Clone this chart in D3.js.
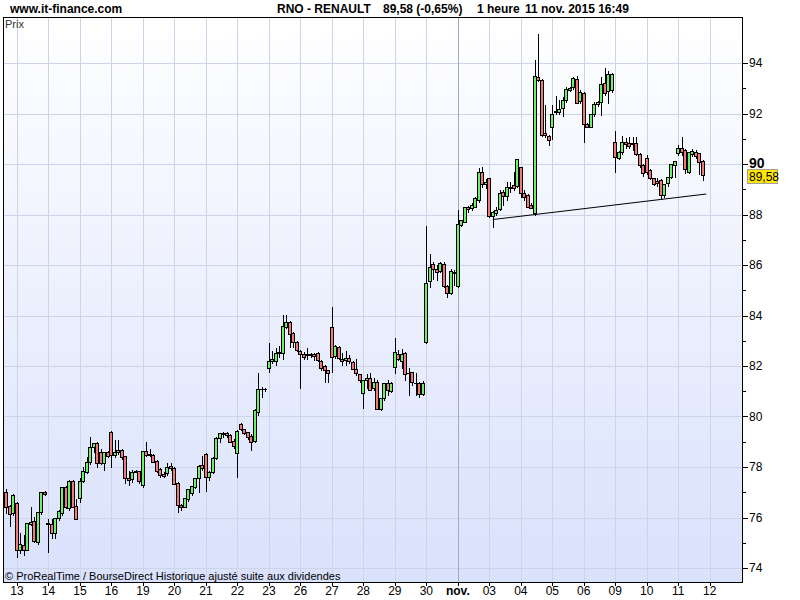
<!DOCTYPE html>
<html><head><meta charset="utf-8">
<script src="https://cdn.jsdelivr.net/npm/d3@7"></script>
<style>
body{margin:0;background:#fff;}
svg{display:block;font-family:"Liberation Sans",Arial,sans-serif;}
</style>
</head><body>
<svg id="c" width="800" height="600"></svg>
<script>
// ---- DATA ----
// trading sessions shown on the x axis (first bar of each labelled day), 9 hourly bars per session
const dayLabels = ["13","14","15","16","19","20","21","22","23","26","27","28","29","30","nov.","03","04","05","06","09","10","11","12"];
const barsPerDay = 9;
const barsBeforeFirstDay = 3; // last 3 hourly bars of 12 oct.

const open = [77.02,76.45,76.16,76.56,74.71,74.91,74.71,75.74,75.86,75.04,
76.20,77.00,75.74,75.73,75.37,75.97,76.19,77.19,76.36,77.44,
76.45,76.76,77.46,77.79,78.18,78.78,78.94,78.61,78.14,78.58,
79.40,78.47,78.58,78.67,78.43,77.55,77.51,77.84,77.84,77.29,
78.63,78.50,78.47,78.25,77.91,77.72,77.75,78.04,77.95,77.38,
76.50,76.43,76.72,76.98,77.22,77.55,78.08,78.50,77.62,77.81,
78.34,79.16,79.33,79.33,79.27,79.03,78.57,79.69,79.50,79.39,
79.23,79.04,80.19,81.08,81.08,81.93,82.20,82.20,82.50,82.53,
83.56,83.73,83.32,82.96,82.61,82.46,82.48,82.48,82.46,82.50,
82.20,82.00,81.84,83.53,82.40,82.77,82.28,82.24,82.30,82.17,
81.87,81.68,80.92,81.45,81.51,81.12,81.38,80.28,80.72,81.34,
81.02,81.95,82.47,82.21,82.50,81.71,81.75,81.34,81.34,80.89,
82.96,85.38,86.03,85.83,85.78,86.05,85.17,84.90,85.74,85.17,
87.58,87.72,88.31,88.24,88.31,88.57,89.70,89.19,89.43,87.95,
88.07,88.20,88.88,88.75,89.04,89.17,89.14,89.89,88.84,88.77,
88.38,88.05,93.46,93.33,91.24,91.11,91.48,92.10,92.05,92.23,
92.53,92.93,93.06,93.37,92.50,92.80,91.58,91.48,91.97,92.36,
92.44,93.20,92.89,92.93,90.86,90.22,90.46,90.86,90.83,90.80,
90.82,90.38,89.96,90.25,89.76,89.43,89.33,89.37,88.77,89.24,
89.50,89.96,90.42,90.62,90.55,89.70,90.38,90.46,90.42,90.12];

const high = [77.13,76.50,76.93,76.60,75.37,75.31,75.80,76.40,76.03,76.23,
77.00,77.05,75.93,75.95,75.97,76.30,77.19,77.25,77.48,77.50,
76.72,77.55,78.01,78.41,79.20,78.94,78.98,78.70,78.60,78.62,
79.43,79.07,79.07,78.70,78.45,77.85,77.90,77.90,77.86,78.63,
78.98,78.70,78.50,78.28,77.95,77.80,78.17,78.17,78.00,77.40,
76.55,76.76,77.13,77.25,77.55,78.06,78.44,78.55,77.85,78.40,
79.17,79.33,79.40,79.40,79.30,79.10,79.47,79.73,79.52,79.40,
79.30,80.30,81.71,81.16,81.12,82.90,82.61,82.70,82.79,84.02,
84.02,83.80,83.35,83.00,82.65,82.57,82.70,82.53,82.53,82.57,
82.22,82.02,81.86,84.35,82.82,82.80,82.50,82.61,82.44,82.20,
82.26,81.70,81.45,81.68,81.71,81.51,81.45,80.72,81.31,81.45,
81.38,83.10,82.63,82.66,82.55,81.91,81.77,81.71,81.36,81.40,
87.54,86.44,86.13,86.00,86.13,86.10,85.20,85.83,85.80,88.18,
87.80,88.31,88.33,88.45,88.70,89.83,89.89,89.40,89.45,88.15,
88.30,88.97,88.97,89.30,89.30,89.70,90.20,89.89,88.97,88.80,
88.45,94.12,95.13,93.35,92.34,91.15,92.34,92.70,92.53,92.67,
93.06,93.06,93.46,93.50,92.93,92.85,91.62,92.00,92.45,92.48,
93.46,93.82,93.68,93.60,91.31,90.50,91.10,91.02,91.08,91.08,
91.08,90.42,90.00,90.35,89.80,89.45,89.43,89.40,89.19,89.50,
89.99,90.12,90.75,91.08,90.60,90.46,90.58,90.55,90.45,90.15];

const low = [76.16,75.66,76.10,74.45,74.58,74.51,74.70,75.70,75.04,74.95,
76.15,76.90,74.65,75.17,75.17,75.90,76.10,76.36,76.30,76.40,
75.93,76.60,77.40,77.75,78.10,78.60,78.01,78.10,77.88,78.40,
78.01,78.40,78.50,78.30,77.35,77.29,77.40,77.80,77.38,77.19,
78.45,78.45,78.20,77.80,77.60,77.60,77.70,77.90,77.33,76.23,
76.30,76.40,76.65,76.90,77.15,77.00,77.90,77.06,77.50,77.75,
78.30,79.00,79.20,79.20,79.00,78.75,77.62,79.45,79.30,79.10,
78.67,78.98,80.06,80.78,81.00,81.78,82.10,82.04,82.37,82.26,
83.50,82.77,82.77,82.60,81.12,82.26,82.26,82.34,82.24,82.20,
81.84,81.38,81.38,81.78,82.30,82.28,82.04,82.04,82.10,81.87,
81.64,81.38,80.32,81.12,81.05,81.05,80.28,80.25,80.65,80.85,
80.98,81.71,82.24,81.91,81.45,80.85,81.25,80.85,80.78,80.85,
82.90,85.12,85.43,85.41,85.74,85.12,84.74,84.85,85.21,85.14,
87.55,87.70,88.10,88.18,88.28,88.50,89.10,89.05,87.92,87.52,
88.00,88.17,88.37,88.57,88.90,88.97,89.10,88.70,88.57,88.31,
88.25,88.00,93.30,91.10,91.08,90.75,90.99,92.00,91.97,91.91,
92.45,92.90,92.97,92.40,92.40,90.88,91.45,91.45,91.90,92.30,
91.94,92.75,92.40,92.85,89.67,90.18,90.40,90.62,90.62,90.55,
90.35,89.90,89.54,89.60,89.40,89.15,89.14,88.64,88.70,89.14,
89.45,89.50,90.35,90.36,89.63,89.65,90.30,90.25,89.59,89.37];

const close = [76.43,76.14,76.88,74.71,74.94,74.71,75.77,75.82,75.08,76.23,
77.00,76.93,75.77,75.37,75.97,76.26,77.19,76.43,77.46,76.43,
75.93,77.46,77.84,78.18,78.78,78.94,78.14,78.14,78.58,78.45,
78.47,78.61,78.67,78.38,77.55,77.50,77.81,77.79,77.46,78.63,
78.47,78.47,78.21,77.85,77.68,77.64,78.01,77.95,77.33,76.50,
76.43,76.76,77.13,77.25,77.55,78.04,77.95,77.62,77.81,78.34,
79.16,79.33,79.29,79.27,79.00,78.83,79.43,79.50,79.36,79.17,
79.00,80.26,81.08,81.10,81.08,82.20,82.26,82.53,82.57,83.58,
83.73,83.25,82.96,82.63,82.46,82.37,82.44,82.44,82.41,82.24,
81.93,81.84,81.74,82.34,82.79,82.30,82.18,82.30,82.20,81.87,
81.71,81.45,81.45,81.51,81.05,81.38,80.28,80.72,81.31,81.05,
81.34,82.57,82.26,82.47,81.68,81.74,81.38,81.31,80.89,81.34,
85.30,85.91,85.83,85.74,86.07,85.17,84.88,85.76,85.70,87.62,
87.78,88.28,88.22,88.38,88.64,89.70,89.19,89.27,87.95,88.11,
88.17,88.84,88.75,89.10,89.10,89.04,90.20,88.84,88.70,88.31,
88.27,93.48,93.33,91.15,91.15,90.95,92.00,92.05,92.18,92.53,
92.97,93.02,93.39,92.43,92.86,91.57,91.48,91.97,92.36,92.44,
93.16,92.80,93.55,93.55,90.29,90.46,90.86,90.80,90.73,90.85,
90.38,89.96,89.63,89.67,89.43,89.19,89.24,88.77,89.19,89.50,
89.99,90.12,90.65,90.46,89.80,90.46,90.50,90.33,90.09,89.58];

const yTickValues = [74,75,76,77,78,79,80,81,82,83,84,85,86,87,88,89,90,91,92,93,94];
const yTickLabels = [74,76,78,80,82,84,86,88,90,92,94];
const lastPrice = 89.58;
const trendBars = [139, 200];
const trendPrices = [87.80, 88.81];

const headerSite = "www.it-finance.com";
const headerParts = ["RNO - RENAULT", "89,58 (-0,65%)", "1 heure", "11 nov. 2015 16:49"];
const footerText = "\u00A9 ProRealTime / BourseDirect  Historique ajust\u00E9 suite aux dividendes";

// ---- CHART ----
const svg = d3.select("#c");
const L = 3, R = 743, T = 17, B = 582;
const x = d3.scaleLinear().domain([-1, 210.5]).range([L, R]);
const y = d3.scaleLinear().domain([74, 94]).range([568, 63]);

const defs = svg.append("defs");
const grad = defs.append("linearGradient").attr("id","bg").attr("x1",0).attr("y1",0).attr("x2",0).attr("y2",1);
grad.append("stop").attr("offset","0%").attr("stop-color","#ffffff");
grad.append("stop").attr("offset","100%").attr("stop-color","#d9e1fc");
defs.append("clipPath").attr("id","clip").append("rect").attr("x",L).attr("y",T).attr("width",R-L).attr("height",B-T);

svg.append("rect").attr("x",L).attr("y",T).attr("width",R-L).attr("height",B-T).attr("fill","url(#bg)");

const plot = svg.append("g").attr("clip-path","url(#clip)");

// horizontal grid
plot.selectAll("line.hg").data(yTickLabels).join("line")
  .attr("x1",L).attr("x2",R)
  .attr("y1",d=>Math.round(y(d))+0.5).attr("y2",d=>Math.round(y(d))+0.5)
  .attr("stroke","#cdd3e8").attr("stroke-width",1);

// vertical grid (first bar of each session)
const dayBar = (d,i)=> barsBeforeFirstDay + i*barsPerDay;
plot.selectAll("line.vg").data(dayLabels).join("line")
  .attr("x1",(d,i)=>Math.round(x(dayBar(d,i)))+0.5).attr("x2",(d,i)=>Math.round(x(dayBar(d,i)))+0.5)
  .attr("y1",T).attr("y2",B)
  .attr("stroke",d=>d==="nov."?"#a3a9c0":"#cdd3e8").attr("stroke-width",1);

// candles
const bars = d3.range(open.length).map(i=>({i,o:open[i],h:Math.max(high[i],open[i],close[i]),l:Math.min(low[i],open[i],close[i]),c:close[i]}));
const cg = plot.append("g");
bars.forEach(b=>{
  const cx = Math.round(x(b.i));
  cg.append("line").attr("x1",cx+0.5).attr("x2",cx+0.5)
    .attr("y1",Math.round(y(b.h))).attr("y2",Math.round(y(b.l))+1)
    .attr("stroke","#000").attr("stroke-width",1);
  const top = Math.round(y(Math.max(b.o,b.c)));
  const bot = Math.round(y(Math.min(b.o,b.c)));
  if (bot - top < 1) {
    cg.append("line").attr("x1",cx-2).attr("x2",cx+2).attr("y1",top+0.5).attr("y2",top+0.5)
      .attr("stroke","#000").attr("stroke-width",1);
  } else {
    cg.append("rect").attr("x",cx-1.5).attr("y",top+0.5).attr("width",3).attr("height",bot-top)
      .attr("fill", b.c>=b.o ? "#6cf06c" : "#f07a7a").attr("stroke","#000").attr("stroke-width",1);
  }
});

// trend line
plot.append("line")
  .attr("x1",x(trendBars[0])).attr("y1",y(trendPrices[0]))
  .attr("x2",x(trendBars[1])).attr("y2",y(trendPrices[1]))
  .attr("stroke","#000").attr("stroke-width",1.1);

// frame
svg.append("rect").attr("x",L+0.5).attr("y",T+0.5).attr("width",R-L-1).attr("height",B-T)
  .attr("fill","none").attr("stroke","#000").attr("stroke-width",1);

// right axis
const ra = svg.append("g");
ra.selectAll("line").data(yTickValues).join("line")
  .attr("x1",R).attr("x2",d=>R+(d%2===0?5:3))
  .attr("y1",d=>Math.round(y(d))+0.5).attr("y2",d=>Math.round(y(d))+0.5)
  .attr("stroke","#000");
ra.selectAll("text").data(yTickLabels).join("text")
  .attr("x",749).attr("y",d=>y(d)+4)
  .attr("font-size",d=>d===90?"14px":"12px")
  .attr("font-weight",d=>d===90?"bold":"normal")
  .attr("fill","#000")
  .text(d=>d);

// last price marker
svg.append("rect").attr("x",747.5).attr("y",Math.round(y(lastPrice))-5.5).attr("width",30).attr("height",14)
  .attr("fill","#ffe600").attr("stroke","#a0a0a0");
svg.append("text").attr("x",749).attr("y",Math.round(y(lastPrice))+5.5)
  .attr("font-size","12px").attr("fill","#000").text(String(lastPrice).replace(".",","));

// bottom axis
const ba = svg.append("g");
ba.selectAll("line").data(dayLabels).join("line")
  .attr("x1",(d,i)=>Math.round(x(dayBar(d,i)))+0.5).attr("x2",(d,i)=>Math.round(x(dayBar(d,i)))+0.5)
  .attr("y1",B).attr("y2",B+4).attr("stroke","#000");
ba.selectAll("text").data(dayLabels).join("text")
  .attr("x",(d,i)=>x(dayBar(d,i))).attr("y",595)
  .attr("text-anchor","middle").attr("font-size","12px")
  .attr("font-weight",d=>d==="nov."?"bold":"normal")
  .text(d=>d);

// texts
svg.append("text").attr("x",10).attr("y",13).attr("font-size","12px").attr("font-weight","bold").text(headerSite);
const hx = [277, 383, 477, 525];
headerParts.forEach((t,k)=>{
  svg.append("text").attr("x",hx[k]).attr("y",13).attr("font-size","12px").attr("font-weight","bold").text(t);
});
svg.append("text").attr("x",5).attr("y",28).attr("font-size","11px").attr("fill","#333").text("Prix");
svg.append("text").attr("x",5).attr("y",580).attr("font-size","11px").attr("fill","#000").text(footerText);
</script>
</body></html>
